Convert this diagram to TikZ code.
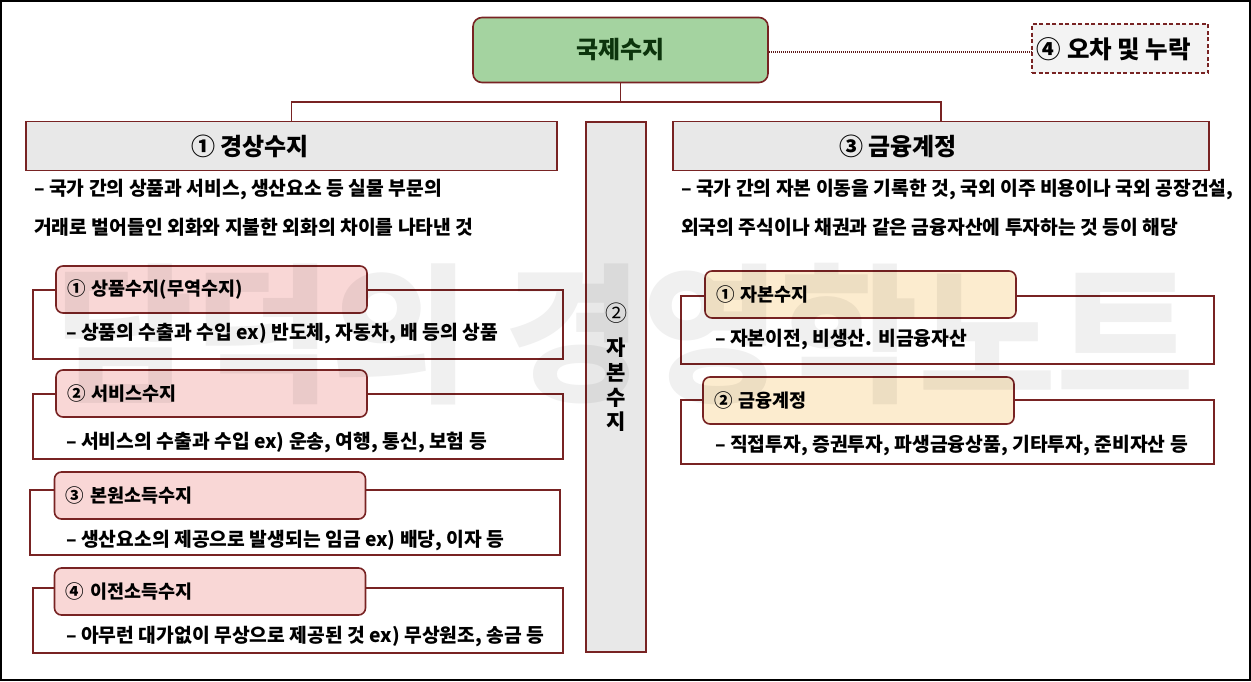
\documentclass[tikz,border=0pt]{standalone}
\usepackage{fontspec}
\setmainfont{Noto Sans CJK KR}
\definecolor{bord}{RGB}{120,35,35}
\definecolor{titlegreen}{RGB}{164,211,160}
\definecolor{titletext}{RGB}{12,52,12}
\definecolor{headgray}{RGB}{232,232,232}
\definecolor{errgray}{RGB}{243,243,243}
\definecolor{pinkfill}{RGB}{249,215,214}
\definecolor{creamfill}{RGB}{252,236,207}
\tikzset{
  titlebox/.style={draw=bord, line width=1.6pt, fill=titlegreen, rounded corners=9pt,
    minimum width=295pt, minimum height=65pt, inner sep=0pt,
    font=\fontsize{24}{26}\selectfont\bfseries, text=titletext},
  errbox/.style={draw=bord, line width=1.3pt, dash pattern=on 4pt off 2.5pt, fill=errgray,
    minimum width=176pt, minimum height=49pt, inner sep=0pt},
  bigtext/.style={inner sep=0pt, font=\fontsize{24}{26}\selectfont\bfseries},
  headbox/.style={draw=bord, line width=1.6pt, fill=headgray, minimum height=49pt, inner sep=0pt},
  outerbox/.style={draw=bord, line width=1.6pt, fill=white, minimum width=530pt, inner sep=0pt},
  tabbox/.style={draw=bord, line width=1.6pt, rounded corners=7pt, minimum height=47pt,
    text width=289pt, inner xsep=11pt, inner ysep=0pt, align=left,
    font=\fontsize{18.5}{22}\selectfont\bfseries},
  pinktab/.style={tabbox, fill=pinkfill},
  creamtab/.style={tabbox, fill=creamfill},
  desc/.style={anchor=west, inner sep=0pt, font=\fontsize{19.3}{22}\selectfont\bfseries},
  vchar/.style={inner sep=0pt, font=\fontsize{21}{21}\selectfont\bfseries},
  conn/.style={draw=bord, line width=1.6pt},
  dotconn/.style={draw=bord!80!black, line width=1.1pt, dash pattern=on 0.8pt off 1.2pt},
}
\begin{document}
\begin{tikzpicture}[x=1pt,y=-1pt]
\useasboundingbox (0,0) rectangle (1251,681);
\draw[line width=1.6pt] (0.8,0.8) rectangle (1250.2,680.2);

% top
\node[titlebox] (top) at (620.5,50) {국제수지};
\node[errbox] (err) at (1120,48.5) {};
\node[bigtext, font=\fontsize{24.5}{26}\selectfont\bfseries] (errt) at (1114,49) {④ 오차 및 누락};
\draw[dotconn] ([yshift=-2pt]top.east) -- ([yshift=-2pt]top.east -| err.west);

% headers
\node[headbox, minimum width=531pt] (cur) at (291.5,146) {};
\node[bigtext] (curt) at (250,146) {① 경상수지};
\node[headbox, minimum width=536pt] (fin) at (941,146) {};
\node[bigtext] (fint) at (898,146) {③ 금융계정};
\node[draw=bord, line width=1.6pt, fill=headgray, minimum width=60pt, minimum height=530pt, inner sep=0pt] (cap) at (616,387) {};
\node[inner sep=0pt, font=\fontsize{22}{22}\selectfont] (capnum) at (616,313) {②};
\node[vchar] (c1) at (616,348) {자};
\node[vchar] (c2) at (616,373) {본};
\node[vchar] (c3) at (616,397.5) {수};
\node[vchar] (c4) at (616,422) {지};

% connectors
\coordinate (jn) at (620.5,102);
\draw[conn] (top.south) -- (jn);
\draw[conn] (cur.north) |- (jn) -| (fin.north);

% descriptions
\node[desc] (d1) at (34,190) {– 국가 간의 상품과 서비스, 생산요소 등 실물 부문의};
\node[desc] (d2) at (34,227) {거래로 벌어들인 외화와 지불한 외화의 차이를 나타낸 것};
\node[desc] (d3) at (681,190) {– 국가 간의 자본 이동을 기록한 것, 국외 이주 비용이나 국외 공장건설,};
\node[desc] (d4) at (681,227) {외국의 주식이나 채권과 같은 금융자산에 투자하는 것 등이 해당};

% left sub boxes
\node[outerbox, minimum height=69pt] (o1) at (298,324.5) {};
\node[pinktab] (t1) at (211.5,289.5) {① 상품수지(무역수지)};
\node[desc] (e1) at (66,334) {– 상품의 수출과 수입 ex) 반도체, 자동차, 배 등의 상품};

\node[outerbox, minimum height=65pt] (o2) at (298,426.5) {};
\node[pinktab] (t2) at (211.5,393.5) {② 서비스수지};
\node[desc] (e2) at (66,442) {– 서비스의 수출과 수입 ex) 운송, 여행, 통신, 보험 등};

\node[outerbox, minimum height=65pt] (o3) at (295,522.5) {};
\node[pinktab] (t3) at (210,495.5) {③ 본원소득수지};
\node[desc] (e3) at (66,541) {– 생산요소의 제공으로 발생되는 임금 ex) 배당, 이자 등};

\node[outerbox, minimum height=65pt] (o4) at (298,620.5) {};
\node[pinktab] (t4) at (210,591.5) {④ 이전소득수지};
\node[desc] (e4) at (66,637) {– 아무런 대가없이 무상으로 제공된 것 ex) 무상원조, 송금 등};

% right sub boxes
\node[outerbox, minimum width=533pt, minimum height=68pt] (o5) at (947.5,330) {};
\node[creamtab] (t5) at (860.5,294.5) {① 자본수지};
\node[desc] (e5) at (715,340) {– 자본이전, 비생산. 비금융자산};

\node[outerbox, minimum width=533pt, minimum height=64pt] (o6) at (947.5,432) {};
\node[creamtab] (t6) at (858.5,400.5) {② 금융계정};
\node[desc] (e6) at (715,446) {– 직접투자, 증권투자, 파생금융상품, 기타투자, 준비자산 등};

% watermark
\node[opacity=0.06, inner sep=0pt, font=\fontsize{150}{150}\selectfont\bfseries] (wm) at (625,334) {담덕의 경영학노트};
\end{tikzpicture}
\end{document}
